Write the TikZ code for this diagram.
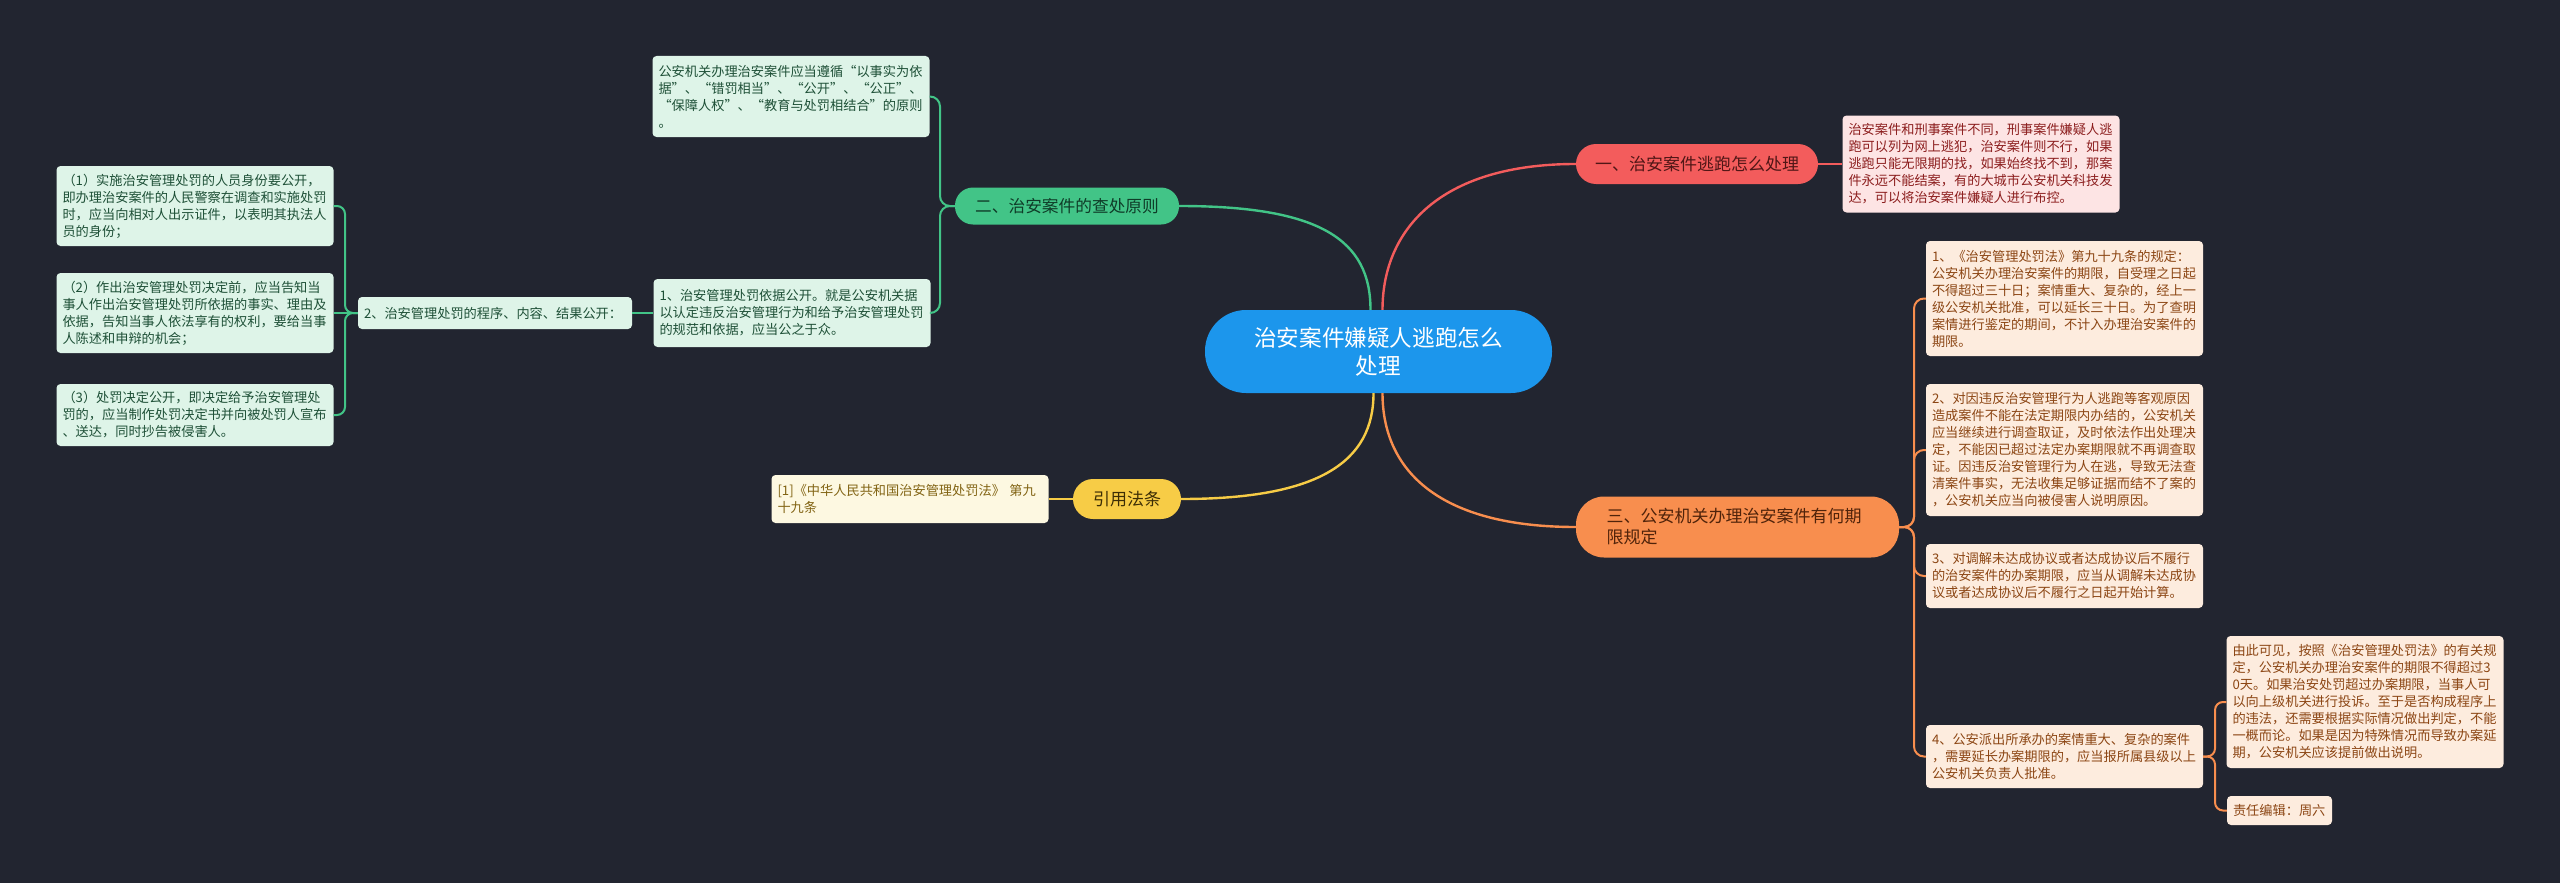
\documentclass[tikz,border=0pt]{standalone}
\usepackage{fontspec}
\setmainfont{Noto Sans CJK SC}
\definecolor{bg}{RGB}{34,37,48}
\definecolor{cblue}{RGB}{28,150,236}
\definecolor{bred}{RGB}{243,92,92}
\definecolor{bgreen}{RGB}{66,196,135}
\definecolor{borange}{RGB}{248,142,78}
\definecolor{byellow}{RGB}{247,204,70}
\definecolor{tred}{RGB}{80,22,22}
\definecolor{tgreen}{RGB}{15,60,40}
\definecolor{torange}{RGB}{80,35,10}
\definecolor{tyellow}{RGB}{60,45,5}
\definecolor{fred}{RGB}{253,228,228}
\definecolor{fgreen}{RGB}{222,244,232}
\definecolor{forange}{RGB}{253,236,222}
\definecolor{fyellow}{RGB}{253,248,225}
\definecolor{lred}{RGB}{140,30,30}
\definecolor{lgreen}{RGB}{30,80,55}
\definecolor{lorange}{RGB}{140,70,20}
\definecolor{lyellow}{RGB}{130,100,20}
\begin{document}
\begin{tikzpicture}[x=1pt,y=-1pt,
  leaf/.style={rectangle, rounded corners=4pt, inner xsep=6pt, inner ysep=3pt,
    text width=265pt, align=left, font=\fontsize{13.2}{17}\selectfont},
  leafred/.style={leaf, fill=fred, text=lred},
  leafgreen/.style={leaf, fill=fgreen, text=lgreen},
  leaforange/.style={leaf, fill=forange, text=lorange},
  leafyellow/.style={leaf, fill=fyellow, text=lyellow},
  branch/.style={rectangle, inner sep=0pt, align=center, font=\fontsize{17}{21}\selectfont},
  conn/.style={line width=2pt},
  mainconn/.style={line width=2.4pt}
]
\path[fill=bg] (0,0) rectangle (2560,883);

% center
\node[rectangle, rounded corners=41pt, fill=cblue, text=white, minimum width=347pt, minimum height=83pt,
  align=center, font=\fontsize{22.6}{28}\selectfont] (c) at (1378.5,351.5) {治安案件嫌疑人逃跑怎么\\处理};

% branches
\node[branch, rounded corners=20pt, fill=bred, text=tred, minimum width=242pt, minimum height=40pt] (b1) at (1697,164) {一、治安案件逃跑怎么处理};
\node[branch, rounded corners=18pt, fill=bgreen, text=tgreen, minimum width=224pt, minimum height=37pt, font=\fontsize{16.7}{20}\selectfont] (b2) at (1067,206) {二、治安案件的查处原则};
\node[branch, rounded corners=28pt, fill=borange, text=torange, minimum width=323pt, minimum height=61pt, align=left, text width=262pt] (b3) at (1737.5,527) {三、公安机关办理治安案件有何期\\限规定};
\node[branch, rounded corners=20pt, fill=byellow, text=tyellow, minimum width=108pt, minimum height=40pt] (b4) at (1127,499) {引用法条};

% red leaf
\node[leafred, minimum height=97pt] (r1) at (1981,164) {治安案件和刑事案件不同，刑事案件嫌疑人逃\\跑可以列为网上逃犯，治安案件则不行，如果\\逃跑只能无限期的找，如果始终找不到，那案\\件永远不能结案，有的大城市公安机关科技发\\达，可以将治安案件嫌疑人进行布控。};

% green leaves
\node[leafgreen, minimum height=81pt] (g1) at (791,96.5) {公安机关办理治安案件应当遵循“以事实为依\\据”、“错罚相当”、“公开”、“公正”、\\“保障人权”、“教育与处罚相结合”的原则\\。};
\node[leafgreen, minimum height=68pt] (g2) at (792,313) {1、治安管理处罚依据公开。就是公安机关据\\以认定违反治安管理行为和给予治安管理处罚\\的规范和依据，应当公之于众。};
\node[leafgreen, minimum height=32pt, text width=262pt] (n2) at (495,313) {2、治安管理处罚的程序、内容、结果公开：};
\node[leafgreen, minimum height=80pt] (p1) at (195,206) {（1）实施治安管理处罚的人员身份要公开，\\即办理治安案件的人民警察在调查和实施处罚\\时，应当向相对人出示证件，以表明其执法人\\员的身份；};
\node[leafgreen, minimum height=80pt] (p2) at (195,313) {（2）作出治安管理处罚决定前，应当告知当\\事人作出治安管理处罚所依据的事实、理由及\\依据，告知当事人依法享有的权利，要给当事\\人陈述和申辩的机会；};
\node[leafgreen, minimum height=62pt] (p3) at (195,415) {（3）处罚决定公开，即决定给予治安管理处\\罚的，应当制作处罚决定书并向被处罚人宣布\\、送达，同时抄告被侵害人。};

% yellow leaf
\node[leafyellow, minimum height=48pt] (y1) at (910,499) {[1]《中华人民共和国治安管理处罚法》 第九\\十九条};

% orange leaves
\node[leaforange, minimum height=115pt] (o1) at (2064.5,298.5) {1、《治安管理处罚法》第九十九条的规定：\\公安机关办理治安案件的期限，自受理之日起\\不得超过三十日；案情重大、复杂的，经上一\\级公安机关批准，可以延长三十日。为了查明\\案情进行鉴定的期间，不计入办理治安案件的\\期限。};
\node[leaforange, minimum height=132pt] (o2) at (2064.5,450) {2、对因违反治安管理行为人逃跑等客观原因\\造成案件不能在法定期限内办结的，公安机关\\应当继续进行调查取证，及时依法作出处理决\\定，不能因已超过法定办案期限就不再调查取\\证。因违反治安管理行为人在逃，导致无法查\\清案件事实，无法收集足够证据而结不了案的\\，公安机关应当向被侵害人说明原因。};
\node[leaforange, minimum height=64pt] (o3) at (2064.5,576) {3、对调解未达成协议或者达成协议后不履行\\的治安案件的办案期限，应当从调解未达成协\\议或者达成协议后不履行之日起开始计算。};
\node[leaforange, minimum height=63pt] (o4) at (2064.5,756.5) {4、公安派出所承办的案情重大、复杂的案件\\，需要延长办案期限的，应当报所属县级以上\\公安机关负责人批准。};
\node[leaforange, minimum height=132pt] (o5) at (2365,702) {由此可见，按照《治安管理处罚法》的有关规\\定，公安机关办理治安案件的期限不得超过3\\0天。如果治安处罚超过办案期限，当事人可\\以向上级机关进行投诉。至于是否构成程序上\\的违法，还需要根据实际情况做出判定，不能\\一概而论。如果是因为特殊情况而导致办案延\\期，公安机关应该提前做出说明。};
\node[leaforange, minimum height=29pt, text width=93pt] (o6) at (2279.5,810.5) {责任编辑：周六};

% bracket coordinates
\coordinate (gk) at (940,206);
\coordinate (nk) at (345,313);
\coordinate (ok) at (1914,527);
\coordinate (qk) at (2215,756.5);

% main connectors
\draw[mainconn, bred] ([xshift=4pt]c.north) .. controls +(0,-80) and +(-136,0) .. (b1.west);
\draw[mainconn, bgreen] ([xshift=-8pt]c.north) .. controls +(0,-70) and +(141,0) .. (b2.east);
\draw[mainconn, borange] ([xshift=4pt]c.south) .. controls +(0,78) and +(-136,0) .. (b3.west);
\draw[mainconn, byellow] ([xshift=-5pt]c.south) .. controls +(0,68) and +(139,0) .. (b4.east);

% leaf connectors
\draw[conn, bred] (b1.east) -- (r1.west);
\draw[conn, bgreen, rounded corners=10pt] (b2.west) -- (gk) |- (g1.east);
\draw[conn, bgreen, rounded corners=10pt] (b2.west) -- (gk) |- (g2.east);
\draw[conn, bgreen] (g2.west) -- (n2.east);
\draw[conn, bgreen, rounded corners=8pt] (n2.west) -- (nk) |- (p1.east);
\draw[conn, bgreen] (n2.west) -- (p2.east);
\draw[conn, bgreen, rounded corners=8pt] (n2.west) -- (nk) |- (p3.east);
\draw[conn, byellow] (b4.west) -- (y1.east);
\draw[conn, borange, rounded corners=10pt] (b3.east) -- (ok) |- (o1.west);
\draw[conn, borange, rounded corners=10pt] (b3.east) -- (ok) |- (o2.west);
\draw[conn, borange, rounded corners=10pt] (b3.east) -- (ok) |- (o3.west);
\draw[conn, borange, rounded corners=10pt] (b3.east) -- (ok) |- (o4.west);
\draw[conn, borange, rounded corners=8pt] (o4.east) -- (qk) |- (o5.west);
\draw[conn, borange, rounded corners=8pt] (o4.east) -- (qk) |- (o6.west);
\end{tikzpicture}
\end{document}
